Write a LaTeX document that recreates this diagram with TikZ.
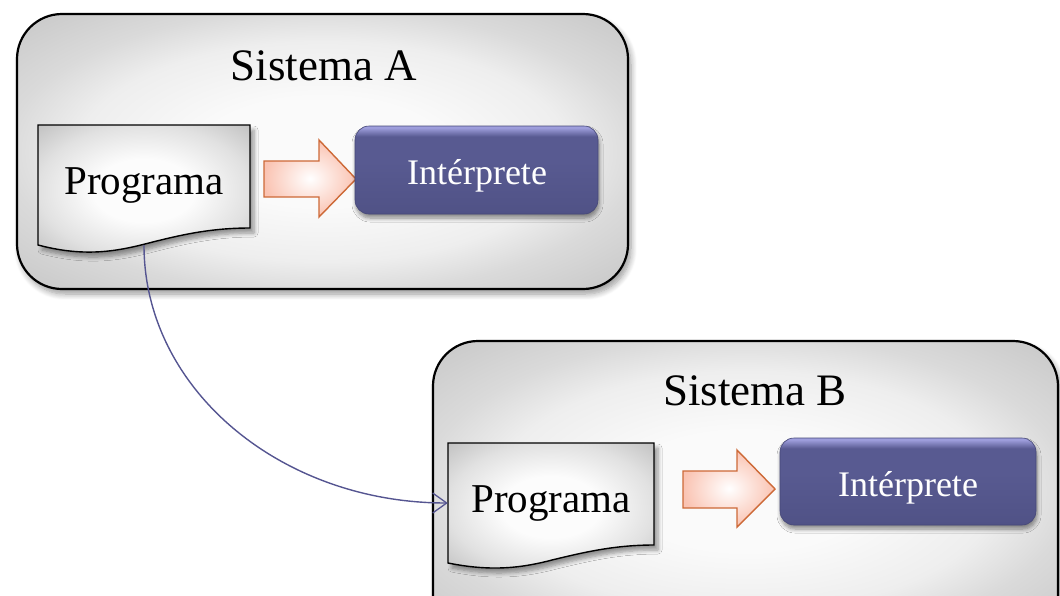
\documentclass[tikz,border=0pt]{standalone}
\usepackage{fontspec}
\setmainfont{Liberation Serif}
\usetikzlibrary{shadows.blur,arrows.meta,calc,shadings}
\definecolor{ibot}{RGB}{80,82,134}
\definecolor{imid}{RGB}{88,90,145}
\definecolor{itop}{RGB}{158,158,220}
\pgfdeclareverticalshading{interpshade}{100bp}{color(0bp)=(ibot); color(25bp)=(ibot); color(55bp)=(imid); color(69bp)=(imid); color(74bp)=(itop); color(100bp)=(itop)}
\definecolor{sysc0}{RGB}{250,250,250}
\definecolor{sysc1}{RGB}{238,238,238}
\definecolor{sysc2}{RGB}{218,218,218}
\definecolor{sysc3}{RGB}{200,200,200}
\pgfdeclareradialshading{sysshade}{\pgfpoint{0bp}{0bp}}{color(0bp)=(sysc0); color(10bp)=(sysc0); color(20bp)=(sysc1); color(26bp)=(sysc2); color(35bp)=(sysc3); color(50bp)=(sysc3)}
\definecolor{docc0}{RGB}{252,252,252}
\definecolor{docc1}{RGB}{225,225,225}
\definecolor{docc2}{RGB}{195,195,195}
\pgfdeclareradialshading{docshade}{\pgfpoint{0bp}{0bp}}{color(0bp)=(docc0); color(12bp)=(docc0); color(25bp)=(docc1); color(35bp)=(docc2); color(50bp)=(docc2)}
\definecolor{arrowline}{RGB}{205,105,55}
\definecolor{arrowfill}{RGB}{250,195,178}
\definecolor{curvecol}{RGB}{85,85,145}
\definecolor{interpedge}{RGB}{70,72,120}
\begin{document}
\begin{tikzpicture}[x=1pt,y=-1pt,
  sysbox/.style={draw=black, line width=2.2pt, rounded corners=45pt, shading=sysshade,
    blur shadow={shadow xshift=3pt, shadow yshift=-5pt, shadow blur steps=8, shadow blur radius=6pt, shadow opacity=40}},
  docshape/.style={draw=black, line width=1.4pt, shading=docshade,
    blur shadow={shadow xshift=4pt, shadow yshift=-5pt, shadow blur steps=6, shadow blur radius=4pt, shadow opacity=40}},
  prognode/.style={inner sep=0pt, font=\fontsize{41}{48}\selectfont, text=black},
  titletext/.style={inner sep=0pt, font=\fontsize{45}{54}\selectfont, text=black},
  interp/.style={rounded corners=14pt, shading=interpshade, draw=interpedge, line width=0.6pt, inner sep=0pt,
    blur shadow={shadow xshift=1pt, shadow yshift=-4pt, shadow blur steps=6, shadow blur radius=4pt, shadow opacity=45}},
  interptext/.style={inner sep=0pt, font=\fontsize{36}{43}\selectfont, text=white},
  blockarrow/.style={draw=arrowline, line width=1.4pt, inner color=white, outer color=arrowfill, line join=miter},
  conn/.style={draw=curvecol, line width=1.4pt, -{Straight Barb[length=14pt,width=20pt,line width=1.3pt]}}
]
\useasboundingbox (0,0) rectangle (1060,595);
\clip (0,0) rectangle (1060,595);
% Sistema A
\node[sysbox, minimum width=611pt, minimum height=275pt] (sysA) at (322.5,151.5) {};
\node[titletext, anchor=base] (sysAlbl) at (324,80) {Sistema A};
\path[docshape] (38,125) -- (250,125) -- (250,228) .. controls (210,228) and (180,235) .. (145,244) .. controls (110,253) and (80,256) .. (38,245) -- cycle;
\node[prognode, minimum width=212pt, minimum height=120pt] (progA) at (144,185) {Programa};
\path[blockarrow] (264,161) -- (319,161) -- (319,140) -- (356,179) -- (319,217) -- (319,197) -- (264,197) -- cycle;
\node[interp, minimum width=243pt, minimum height=88pt] (intA) at (476.5,170) {};
\node[interptext, anchor=base] (intAlbl) at (477,184) {Intérprete};
% Sistema B
\node[sysbox, minimum width=625pt, minimum height=300pt] (sysB) at (745.5,491) {};
\node[titletext, anchor=base] (sysBlbl) at (755,405) {Sistema B};
\path[docshape] (448,443) -- (654,443) -- (654,545) .. controls (615,545) and (585,552) .. (552,560) .. controls (518,569) and (488,571) .. (448,563) -- cycle;
\node[prognode, minimum width=206pt, minimum height=120pt] (progB) at (551,503) {Programa};
\path[blockarrow] (683,471) -- (737,471) -- (737,450) -- (775,489) -- (737,527) -- (737,508) -- (683,508) -- cycle;
\node[interp, minimum width=256pt, minimum height=87pt] (intB) at (908,481.5) {};
\node[interptext, anchor=base] (intBlbl) at (908,496) {Intérprete};
% connector
\draw[conn] (progA.south) .. controls +(0,144) and +(-167,0) .. (progB.west);
\end{tikzpicture}
\end{document}
